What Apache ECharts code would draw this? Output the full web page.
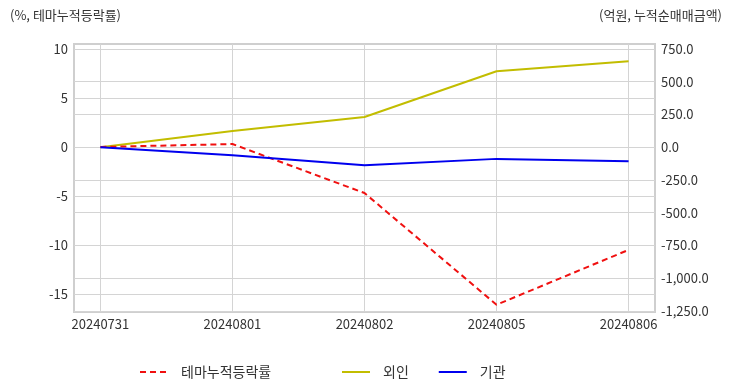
<!DOCTYPE html>
<html><head><meta charset="utf-8">
<script src="https://cdn.jsdelivr.net/npm/echarts@6/dist/echarts.min.js"></script>
<style>html,body{margin:0;padding:0;background:#fff}#c{width:732px;height:392px}</style>
</head><body><div id="c"></div>
<script>
const categories = ['20240731','20240801','20240802','20240805','20240806'];
const themeRate = [0, 0.3, -4.7, -16.1, -10.5];
const foreign = [0, 124, 231, 580, 656];
const institution = [0, -61, -137, -89, -107];
const leftTicks = [-15, -10, -5, 0, 5, 10];
const rightTicks = [-1250, -1000, -750, -500, -250, 0, 250, 500, 750];
const xTicks = categories.map((c, i) => i);

const FONT = "'Noto Sans CJK KR', 'Noto Sans', sans-serif";
const toPts = arr => arr.map((v, i) => [i, v]);
const chart = echarts.init(document.getElementById('c'), null, {renderer: 'canvas'});
const legendCommon = {top: 360, itemWidth: 28, itemHeight: 14, itemGap: 29,
  itemStyle: {opacity: 0},
  textStyle: {fontFamily: FONT, fontSize: 14, color: '#333', padding: [0, 0, 0, 8]}};
chart.setOption({
  animation: false,
  textStyle: {fontFamily: FONT},
  grid: {left: 74, right: 77, top: 44, bottom: 80, show: true, borderColor: '#cfcfcf', borderWidth: 2, backgroundColor: 'transparent'},
  graphic: [
    {type: 'text', left: 10, top: 9, style: {text: '(%, 테마누적등락률)', fontFamily: FONT, fontSize: 13, fill: '#333'}},
    {type: 'text', right: 10, top: 9, style: {text: '(억원, 누적순매매금액)', fontFamily: FONT, fontSize: 13, fill: '#333'}}
  ],
  legend: [
    Object.assign({data: ['테마누적등락률'], left: 134}, legendCommon),
    Object.assign({data: ['외인', '기관'], left: 336}, legendCommon)
  ],
  xAxis: {
    type: 'value', min: -0.2, max: 4.2,
    axisLine: {show: false}, axisTick: {show: false, customValues: xTicks},
    axisLabel: {customValues: xTicks, color: '#333', fontSize: 13, fontFamily: FONT, margin: 6,
      formatter: v => categories[Math.round(v)] || ''},
    splitLine: {show: true, lineStyle: {color: '#d4d4d4', width: 1}}
  },
  yAxis: [
    {type: 'value', min: -16.84, max: 10.51, position: 'left',
     axisLine: {show: false}, axisTick: {show: false, customValues: leftTicks},
     axisLabel: {customValues: leftTicks, color: '#333', fontSize: 13, fontFamily: FONT, margin: 6},
     splitLine: {show: true, lineStyle: {color: '#d4d4d4', width: 1}}},
    {type: 'value', min: -1258, max: 788, position: 'right',
     axisLine: {show: false}, axisTick: {show: false, customValues: rightTicks},
     axisLabel: {customValues: rightTicks, color: '#333', fontSize: 13, fontFamily: FONT, margin: 6,
       formatter: v => v.toLocaleString('en-US', {minimumFractionDigits: 1, maximumFractionDigits: 1})},
     splitLine: {show: true, lineStyle: {color: '#d4d4d4', width: 1}}}
  ],
  series: [
    {name: '테마누적등락률', type: 'line', yAxisIndex: 0, data: toPts(themeRate), symbol: 'none',
     lineStyle: {color: '#f01010', width: 2, type: [6, 4]}, itemStyle: {color: '#f01010'}, z: 3},
    {name: '외인', type: 'line', yAxisIndex: 1, data: toPts(foreign), symbol: 'none',
     lineStyle: {color: '#c2bd00', width: 2}, itemStyle: {color: '#c2bd00'}, z: 2},
    {name: '기관', type: 'line', yAxisIndex: 1, data: toPts(institution), symbol: 'none',
     lineStyle: {color: '#0000ee', width: 2}, itemStyle: {color: '#0000ee'}, z: 4}
  ]
});
</script></body></html>
